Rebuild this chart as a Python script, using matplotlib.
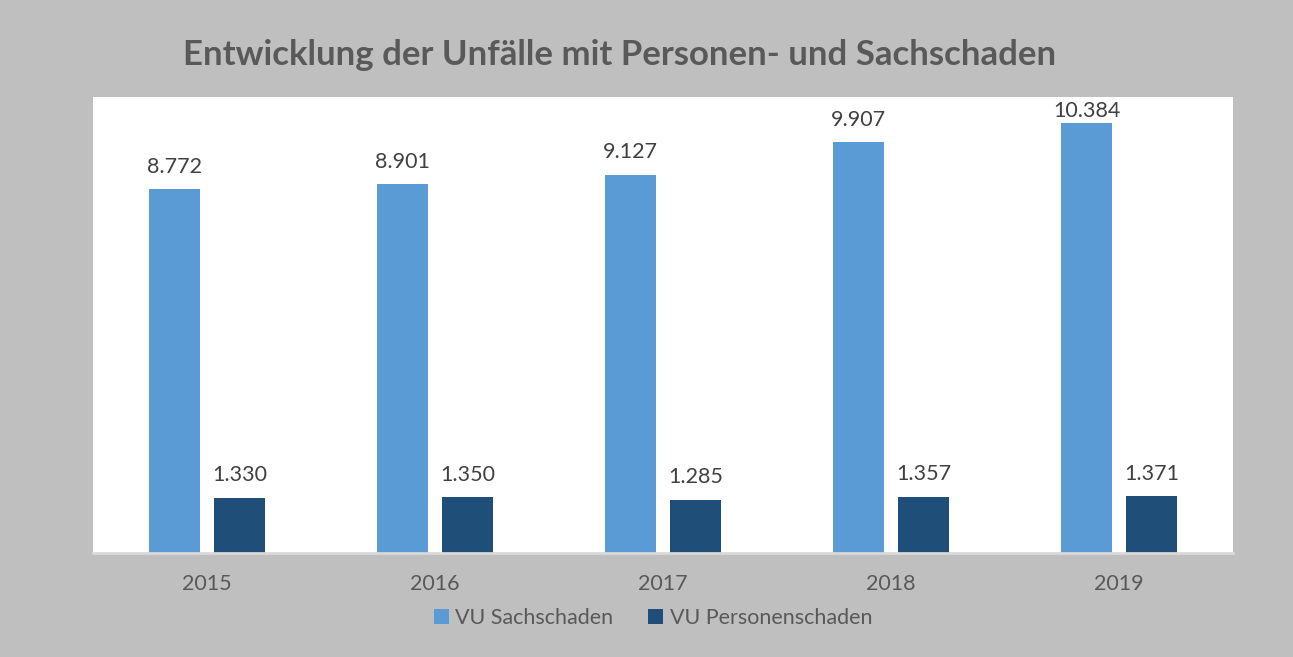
import numpy as np
import matplotlib
matplotlib.use("Agg")
import matplotlib.pyplot as plt

years = ["2015", "2016", "2017", "2018", "2019"]
sachschaden = [8772, 8901, 9127, 9907, 10384]
personenschaden = [1330, 1350, 1285, 1357, 1371]
series_names = ["VU Sachschaden", "VU Personenschaden"]

plt.rcParams['font.family'] = ['Lato', 'DejaVu Sans']

fig = plt.figure(figsize=(12.93, 6.57), dpi=100, facecolor="#BFBFBF")
ax = fig.add_axes([93 / 1293, 1 - 553 / 657, (1233 - 93) / 1293, (553 - 97) / 657])
ax.set_facecolor("white")

x = np.arange(len(years))
w = 0.224
off = 0.1425
ymax = 11000
b1 = ax.bar(x - off, sachschaden, w, color="#5B9BD5", label=series_names[0])
b2 = ax.bar(x + off, personenschaden, w, color="#1F4E79", label=series_names[1])

def fmt(v):
    return f"{v:,}".replace(",", ".")

# labels above bars; like Excel, keep them inside the plot area when there is no room
for bars, vals in [(b1, sachschaden), (b2, personenschaden)]:
    for rect, v in zip(bars, vals):
        cx = rect.get_x() + rect.get_width() / 2
        if v > ymax * 0.93:
            ax.annotate(fmt(v), (cx, ymax), xytext=(0, -3), textcoords="offset points",
                        ha="center", va="top", fontsize=15.5, color="#404040")
        else:
            ax.annotate(fmt(v), (cx, v), xytext=(0, 9), textcoords="offset points",
                        ha="center", va="bottom", fontsize=15.5, color="#404040")

ax.set_xlim(-0.5, len(years) - 0.5)
ax.set_ylim(0, ymax)
ax.set_yticks([])
ax.set_xticks(x)
ax.set_xticklabels(years, fontsize=15.5, color="#595959")
ax.tick_params(axis="x", length=0, pad=15)
for s in ["top", "left", "right"]:
    ax.spines[s].set_visible(False)
ax.spines["bottom"].set_color("#D9D9D9")
ax.spines["bottom"].set_linewidth(2)

fig.text(620 / 1293, 1 - 55 / 657, "Entwicklung der Unfälle mit Personen- und Sachschaden",
         ha="center", va="center", fontsize=25, fontweight="bold", color="#595959")

leg = fig.legend(handles=[b1, b2], loc="center", bbox_to_anchor=(653 / 1293, 1 - 618 / 657),
                 ncol=2, frameon=False, fontsize=15.5, labelcolor="#595959",
                 handlelength=0.7, handleheight=0.7, handletextpad=0.3, columnspacing=1.6)

fig.savefig("out.png", dpi=100, facecolor=fig.get_facecolor())
